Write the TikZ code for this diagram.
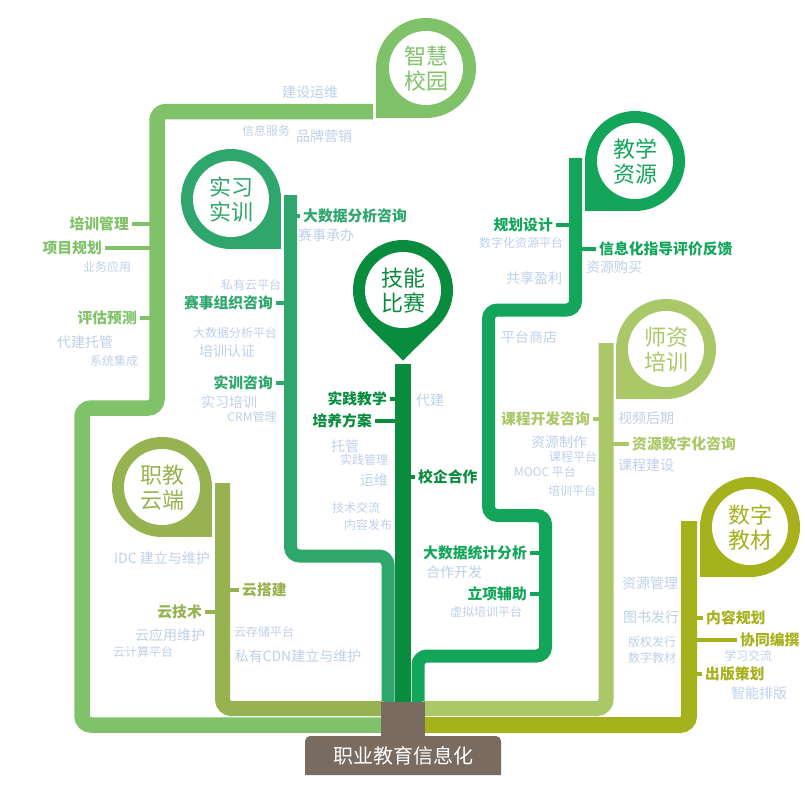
\documentclass[tikz,border=0pt]{standalone}
\usepackage{fontspec}
\setmainfont{Noto Sans CJK SC}
\usetikzlibrary{calc}
\definecolor{LG}{HTML}{80C269}
\definecolor{MG}{HTML}{2EA66C}
\definecolor{DG}{HTML}{0A8C3E}
\definecolor{TG}{HTML}{13A65A}
\definecolor{YG}{HTML}{ABC869}
\definecolor{OG}{HTML}{97B250}
\definecolor{OY}{HTML}{A5B21C}
\definecolor{BR}{HTML}{7A6B60}
\definecolor{LB}{HTML}{BDD0EA}
\tikzset{
 road/.style={line width=#1, rounded corners=9pt, line cap=butt},
 tk/.style={draw=#1, line width=3.2pt},
 bl/.style={font=\fontsize{14.8}{16}\selectfont\bfseries, text=#1, inner sep=0pt},
 lb/.style={font=\fontsize{14}{15}\selectfont, text=LB, inner sep=0pt},
 ls/.style={font=\fontsize{12}{13}\selectfont, text=LB, inner sep=0pt},
 pintxt/.style={font=\fontsize{22}{25}\selectfont, text=#1, align=center, inner sep=0pt},
}
\begin{document}
\begin{tikzpicture}[x=1pt,y=-1pt]
\useasboundingbox (0,0) rectangle (805,792);
% line centre coordinates
\coordinate (xZH) at (157,0);
\coordinate (xSX) at (290.5,0);
\coordinate (xJN) at (403,0);
\coordinate (xJX) at (575.5,0);
\coordinate (xJX2) at (545.5,0);
\coordinate (xSZ) at (606,0);
\coordinate (xZJ) at (222.5,0);
\coordinate (xSJ) at (689,0);

% ---------- bold labels (left of line) ----------
\node[bl=LG, anchor=east] (a1) at (129,224) {培训管理};
\node[bl=LG, anchor=east] (a2) at (102,248) {项目规划};
\node[bl=LG, anchor=east] (a3) at (137,318) {评估预测};
\node[bl=MG, anchor=east] (b2) at (273,303) {赛事组织咨询};
\node[bl=MG, anchor=east] (b3) at (273,383) {实训咨询};
\node[bl=DG, anchor=east] (c1) at (387,399) {实践教学};
\node[bl=DG, anchor=east] (c2) at (372,421) {培养方案};
\node[bl=TG, anchor=east] (d1) at (553,225) {规划设计};
\node[bl=TG, anchor=east] (d3) at (527,553) {大数据统计分析};
\node[bl=TG, anchor=east] (d4) at (527,594) {立项辅助};
\node[bl=YG, anchor=east] (e1) at (590,419) {课程开发咨询};
\node[bl=OG, anchor=east] (f2) at (202,612) {云技术};
% ---------- bold labels (right of line) ----------
\node[bl=MG, anchor=west] (b1) at (303,216) {大数据分析咨询};
\node[bl=DG, anchor=west] (c3) at (418,477) {校企合作};
\node[bl=TG, anchor=west] (d2) at (599,249) {信息化指导评价反馈};
\node[bl=YG, anchor=west] (e2) at (632,444) {资源数字化咨询};
\node[bl=OG, anchor=west] (f1) at (242,590) {云搭建};
\node[bl=OY, anchor=west] (g1) at (706,618) {内容规划};
\node[bl=OY, anchor=west] (g2) at (740,640) {协同编撰};
\node[bl=OY, anchor=west] (g3) at (705,674) {出版策划};

% ---------- ticks ----------
\foreach \n/\l/\c in {a1/xZH/LG,a2/xZH/LG,a3/xZH/LG,b2/xSX/MG,b3/xSX/MG,c1/xJN/DG,c2/xJN/DG,d1/xJX/TG,d3/xJX2/TG,d4/xJX2/TG,e1/xSZ/YG,f2/xZJ/OG}
  \draw[tk=\c] ([xshift=3pt]\n.east) -- (\n.east -| \l);
\foreach \n/\l/\c in {b1/xSX/MG,c3/xJN/DG,d2/xJX/TG,e2/xSZ/YG,f1/xZJ/OG,g1/xSJ/OY,g2/xSJ/OY,g3/xSJ/OY}
  \draw[tk=\c] ([xshift=-3pt]\n.west) -- (\n.west -| \l);

% ---------- roads ----------
\draw[road=15.5pt, draw=LG] (373,111.5) -- (157,111.5) -- (157,408) -- (82,408) -- (82,725) -- (384,725);
\draw[road=13pt, draw=MG] (290.5,195) -- (290.5,556) -- (388,556) -- (388,704);
\draw[road=16pt, draw=DG] (403,364) -- (403,704);
\draw[road=13pt, draw=TG] (575.5,158) -- (575.5,310) -- (488.5,310) -- (488.5,515.5) -- (545.5,515.5) -- (545.5,656) -- (418,656) -- (418,704);
\draw[road=15pt, draw=YG] (606,343) -- (606,708.5) -- (422,708.5);
\draw[road=15pt, draw=OG] (222.5,483) -- (222.5,708.5) -- (384,708.5);
\draw[road=16pt, draw=OY] (689,521) -- (689,725) -- (422,725);

% ---------- pins ----------
% 智慧校园
\fill[LG] (426,68) circle[radius=50pt];
\fill[LG] (376,68) rectangle (426,118);
\fill[white] (426,68) circle[radius=37pt];
\node[pintxt=LG] (pZH) at (426,69) {智慧\\校园};
% 实习实训
\fill[MG] (231,199) circle[radius=50pt];
\fill[MG] (231,199) rectangle (281,249);
\fill[white] (231,199) circle[radius=38pt];
\node[pintxt=MG] (pSX) at (231,200) {实习\\实训};
% 技能比赛
\fill[DG] (403,290) circle[radius=50pt];
\fill[DG] (403,360.7) -- (438.4,325.4) -- (403,290) -- (367.6,325.4) -- cycle;
\fill[white] (403,290) circle[radius=38pt];
\node[pintxt=DG] (pJN) at (403,291) {技能\\比赛};
% 教学资源
\fill[TG] (635,161) circle[radius=50pt];
\fill[TG] (585,161) rectangle (635,211);
\fill[white] (635,161) circle[radius=38pt];
\node[pintxt=TG] (pJX) at (635,162) {教学\\资源};
% 师资培训
\fill[YG] (666,349) circle[radius=50pt];
\fill[YG] (616,349) rectangle (666,399);
\fill[white] (666,349) circle[radius=38pt];
\node[pintxt=YG] (pSZ) at (666,350) {师资\\培训};
% 职教云端
\fill[OG] (162,487) circle[radius=50pt];
\fill[OG] (162,487) rectangle (212,537);
\fill[white] (162,487) circle[radius=38pt];
\node[pintxt=OG] (pZJ) at (162,488) {职教\\云端};
% 数字教材
\fill[OY] (750,527) circle[radius=50pt];
\fill[OY] (700,527) rectangle (750,577);
\fill[white] (750,527) circle[radius=38pt];
\node[pintxt=OY] (pSJ) at (750,528) {数字\\教材};

% ---------- trunk & root label ----------
\node[fill=BR, minimum width=44pt, minimum height=35pt, inner sep=0pt, anchor=north west] (trunk) at (381,701.5) {};
\fill[BR] (305,775) [rounded corners=5pt] -- (305,736) -- (501,736) [sharp corners] -- (501,775) -- cycle;
\node[font=\fontsize{20}{22}\selectfont, text=white, inner sep=0pt] (root) at (403,756) {职业教育信息化};

% ---------- light-blue labels ----------
\node[lb] (t1) at (310,92) {建设运维};
\node[ls] (t2) at (266,131) {信息服务};
\node[lb] (t3) at (324,136) {品牌营销};
\node[ls] (t4) at (107,267) {业务应用};
\node[lb] (t5) at (85,342) {代建托管};
\node[ls] (t6) at (114,361) {系统集成};
\node[lb] (t7) at (326,235) {赛事承办};
\node[ls] (t8) at (251,285) {私有云平台};
\node[ls] (t9) at (235,333) {大数据分析平台};
\node[lb] (t10) at (227,351) {培训认证};
\node[lb] (t11) at (229,402) {实习培训};
\node[ls] (t12) at (252,417) {CRM管理};
\node[lb] (t13) at (430,400) {代建};
\node[lb] (t14) at (345,446) {托管};
\node[ls] (t15) at (364,460) {实践管理};
\node[lb] (t16) at (374,480) {运维};
\node[ls] (t17) at (356,508) {技术交流};
\node[ls] (t18) at (368,525) {内容发布};
\node[ls] (t19) at (521,243) {数字化资源平台};
\node[lb] (t20) at (614,267) {资源购买};
\node[lb] (t21) at (534,278) {共享盈利};
\node[lb] (t22) at (529,337) {平台商店};
\node[lb] (t23) at (646,418) {视频后期};
\node[lb] (t24) at (559,442) {资源制作};
\node[ls] (t25) at (573,457) {课程平台};
\node[lb] (t26) at (646,465) {课程建设};
\node[ls] (t27) at (545,472) {MOOC 平台};
\node[ls] (t28) at (572,491) {培训平台};
\node[lb] (t29) at (454,572) {合作开发};
\node[ls] (t30) at (486,612) {虚拟培训平台};
\node[lb] (t31) at (650,583) {资源管理};
\node[lb] (t32) at (651,617) {图书发行};
\node[ls] (t33) at (652,642) {版权发行};
\node[ls] (t34) at (652,658) {数字教材};
\node[ls] (t35) at (748,656) {学习交流};
\node[lb] (t36) at (759,693) {智能排版};
\node[lb] (t37) at (162,558) {IDC 建立与维护};
\node[lb] (t38) at (170,635) {云应用维护};
\node[ls] (t39) at (143,652) {云计算平台};
\node[ls] (t40) at (264,632) {云存储平台};
\node[lb] (t41) at (298,656) {私有CDN建立与维护};
\end{tikzpicture}
\end{document}
